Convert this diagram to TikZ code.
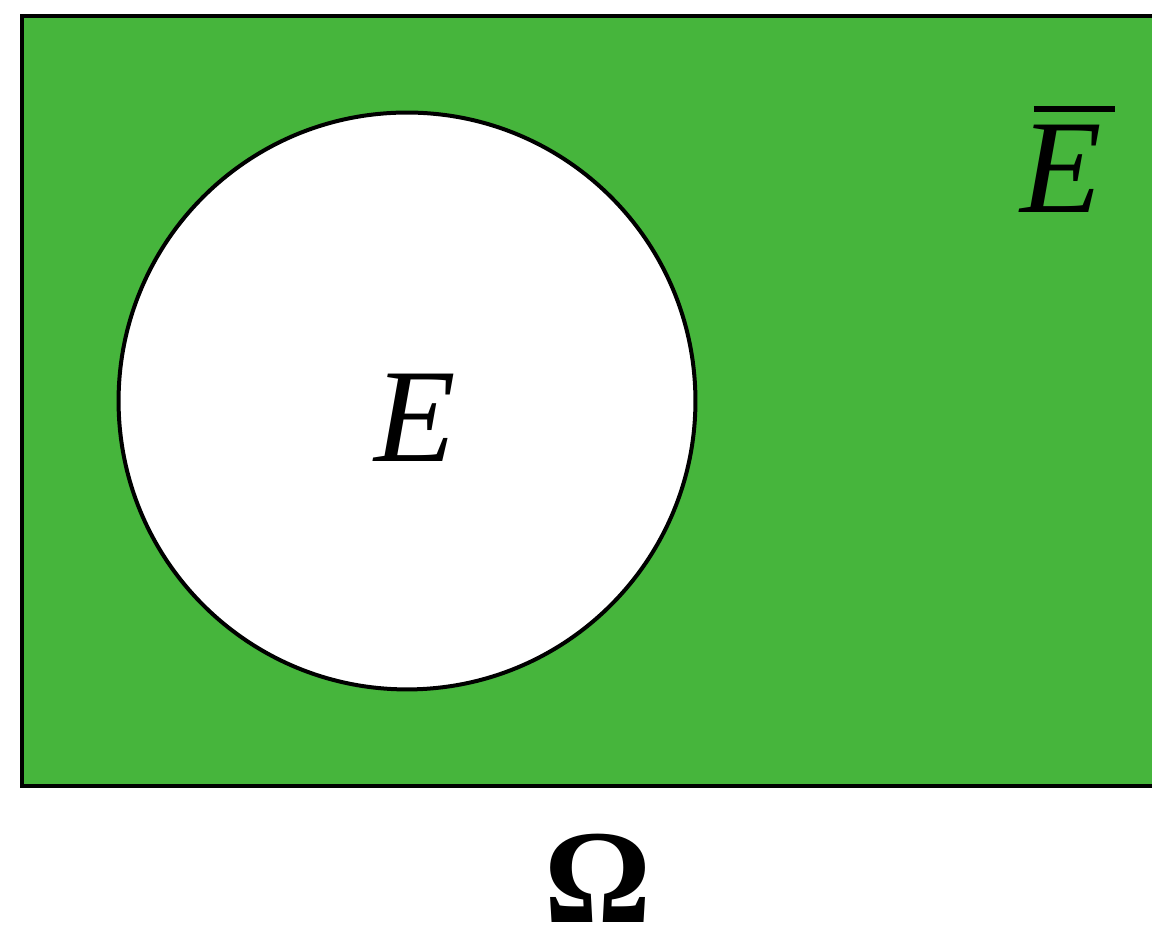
\documentclass[tikz,border=0pt]{standalone}
\usepackage{fontspec}
\setmainfont{Liberation Serif}
\usetikzlibrary{positioning}
\definecolor{evgreen}{RGB}{70,181,60}
\tikzset{
  biglabel/.style={font=\fontsize{76}{80}\selectfont, inner sep=0pt},
}
% letter with a bar over it, bar shifted a bit to the right
\newcommand{\barletter}[1]{\setbox0\hbox{#1}%
  \vbox{\offinterlineskip\hbox{\kern0.1em\vrule height 0.046em width \wd0}\kern0.1em\box0}}

\begin{document}
\begin{tikzpicture}[x=0.02cm, y=0.02cm]

% Canvas (pixel units, y measured from the bottom)
\def\picW{1152}
\def\picH{928}
\useasboundingbox (0,0) rectangle (\picW,\picH);
\clip (0,0) rectangle (\picW,\picH);

% Sample space (runs off the right edge)
\fill[evgreen] (22,142) rectangle (1200,912);
\draw[line width=0.08cm] (22,142) rectangle (1200,912);

% Event E
\node[circle, draw, line width=0.08cm, fill=white, inner sep=0pt,
      minimum size=11.54cm] (evt) at (407,527) {};

% Labels
\node[biglabel, anchor=base] (lblE) at (415,466) {\itshape E};
\node[biglabel, anchor=base] (lblEbar) at (1068,715) {\barletter{\itshape E}};
\node[biglabel, anchor=base] (lblOmega) at (598,5) {\bfseries Ω};

\end{tikzpicture}
\end{document}
